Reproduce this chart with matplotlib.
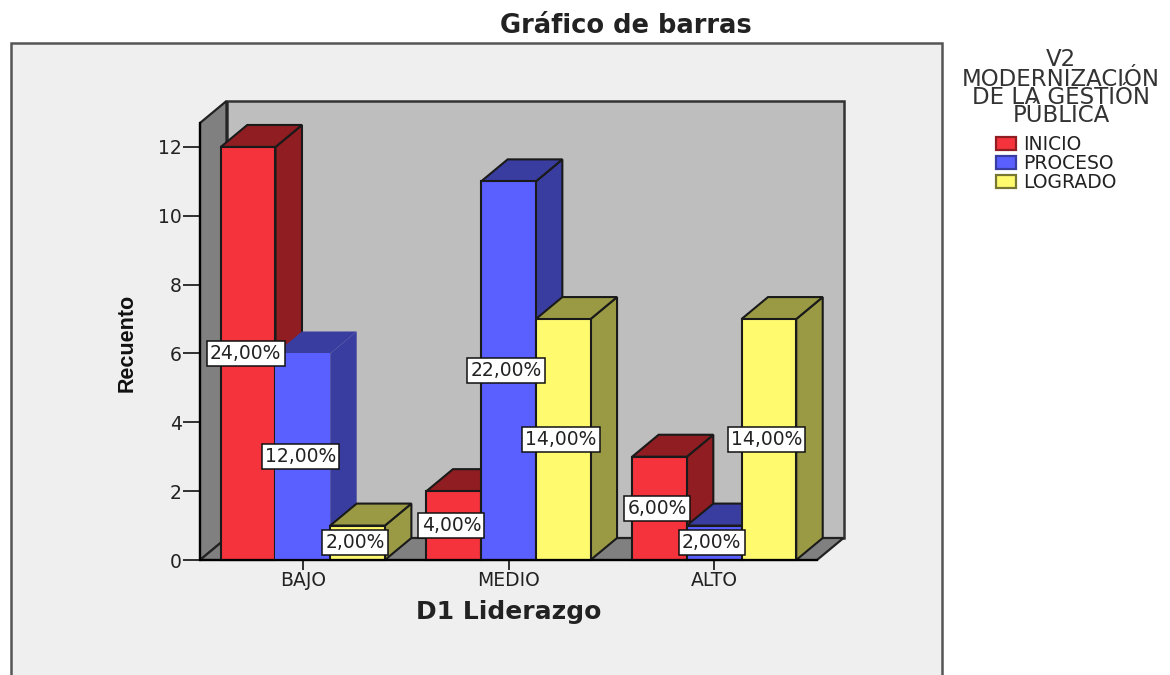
# Grafico de barras 3D (recuento por D1 Liderazgo)
import numpy as np
import matplotlib
matplotlib.use('Agg')
import matplotlib.pyplot as plt
from matplotlib.patches import Rectangle, Patch

plt.rcParams['font.family'] = ['DejaVu Sans']

categories = ['BAJO', 'MEDIO', 'ALTO']
series_names = ['INICIO', 'PROCESO', 'LOGRADO']
inicio = [12, 2, 3]
proceso = [6, 11, 1]
logrado = [1, 7, 7]
pct_inicio = ['24,00%', '4,00%', '6,00%']
pct_proceso = ['12,00%', '22,00%', '2,00%']
pct_logrado = ['2,00%', '14,00%', '14,00%']
y_ticks = [0, 2, 4, 6, 8, 10, 12]

front = ['#F5333C', '#5A5FFF', '#FFFA6E']
side = ['#8F1D22', '#3A3DA0', '#9A9A45']

W, H = 1170, 675
fig = plt.figure(figsize=(W / 100, H / 100), dpi=100, facecolor='white')

# panel gris de fondo (sigue mas alla del borde inferior)
fig.add_artist(Rectangle((11 / W, 1 - 700 / H), 931 / W, 657 / H, transform=fig.transFigure,
                         facecolor='#EFEFEF', edgecolor='#555555', linewidth=1.8, zorder=-1))

ax = fig.add_axes([200 / W, 1 - 560 / H, 617 / W, 437 / H])
ax.set_xlim(-0.5, 2.5)
ax.set_ylim(0, 437 / 34.42)
ax.patch.set_visible(False)

# profundidad del efecto 3D en unidades de datos
dx = 26.5 * 3 / 617
dy = 22 / 34.42
x0, x1 = ax.get_xlim()
top = ax.get_ylim()[1]

ax.fill([x0 + dx, x1 + dx, x1 + dx, x0 + dx], [dy, dy, top + dy, top + dy], facecolor='#BEBEBE',
        edgecolor='#333333', linewidth=1.8, clip_on=False, zorder=1)
ax.fill([x0, x0 + dx, x0 + dx, x0], [0, dy, top + dy, top], facecolor='#808080',
        edgecolor='#222222', linewidth=1.6, clip_on=False, zorder=1)
ax.fill([x0, x1, x1 + dx, x0 + dx], [0, 0, dy, dy], facecolor='#808080',
        edgecolor='#222222', linewidth=1.6, clip_on=False, zorder=1)

width = 54.7 * 3 / 617
x = np.arange(len(categories))
all_series = [inicio, proceso, logrado]
all_pct = [pct_inicio, pct_proceso, pct_logrado]

z = 2
for i in range(len(categories)):
    for j in range(3):
        val = all_series[j][i]
        xl = x[i] + (j - 1.5) * width
        xr = xl + width
        ec = 'none' if (i == 0 and j == 1) else '#1A1A1A'
        ax.fill([xr, xr + dx, xr + dx, xr], [0, dy, val + dy, val], facecolor=side[j],
                edgecolor=ec, linewidth=1.5, clip_on=False, zorder=z)
        ax.fill([xl, xl + dx, xr + dx, xr], [val, val + dy, val + dy, val], facecolor=side[j],
                edgecolor=ec, linewidth=1.5, clip_on=False, zorder=z)
        ax.bar(xl, val, width, align='edge', color=front[j], edgecolor=ec, linewidth=1.5,
               clip_on=False, zorder=z)
        z += 1

# etiquetas de porcentaje encima de todo
for i in range(len(categories)):
    for j in range(3):
        ax.text(x[i] + (j - 1) * width - 0.012, all_series[j][i] / 2, all_pct[j][i], ha='center', va='center',
                fontsize=13.5, color='#222222', zorder=50, clip_on=False,
                bbox=dict(boxstyle='square,pad=0.17', facecolor='white', edgecolor='#111111', linewidth=1.1))

ax.set_xticks(x)
ax.set_xticklabels(categories)
ax.set_yticks(y_ticks)
ax.tick_params(axis='y', length=12, width=1.3, color='#222222', labelsize=13.5, labelcolor='#222222', pad=1)
ax.tick_params(axis='x', length=7, width=1.3, color='#222222', labelsize=13.5, labelcolor='#222222', pad=1)
for s in ['top', 'right']:
    ax.spines[s].set_visible(False)
ax.spines['left'].set_linewidth(1.6)
ax.spines['bottom'].set_linewidth(1.6)
ax.spines['left'].set_zorder(60)
ax.spines['bottom'].set_zorder(60)

fig.text(626 / W, 1 - 26 / H, 'Gráfico de barras', ha='center', va='center', fontsize=18.5,
         fontweight='bold', color='#222222')
fig.text(509 / W, 1 - 612 / H, 'D1 Liderazgo', ha='center', va='center', fontsize=18,
         fontweight='bold', color='#222222')
fig.text(127 / W, 1 - 343 / H, 'Recuento', ha='center', va='center', rotation=90, fontsize=15.5,
         fontfamily='Liberation Sans', fontweight='bold', color='#111111')

# leyenda
for txt, ypix in zip(['V2', 'MODERNIZACIÓN', 'DE LA GESTIÓN', 'PÚBLICA'], [60, 79, 97, 115]):
    fig.text(1061 / W, 1 - ypix / H, txt, ha='center', va='center', fontsize=16.5, color='#333333')

handles = [Patch(facecolor=front[k], edgecolor=side[k] if k < 2 else '#777733', linewidth=1.6, label=series_names[k])
           for k in range(3)]
fig.legend(handles=handles, loc='upper left', bbox_to_anchor=(996 / W, 1 - 135 / H), frameon=False,
           fontsize=13.5, handlelength=1.08, handleheight=0.74, handletextpad=0.35, labelspacing=0.0,
           borderpad=0, borderaxespad=0, labelcolor='#222222')

fig.savefig('out.png', dpi=100)
